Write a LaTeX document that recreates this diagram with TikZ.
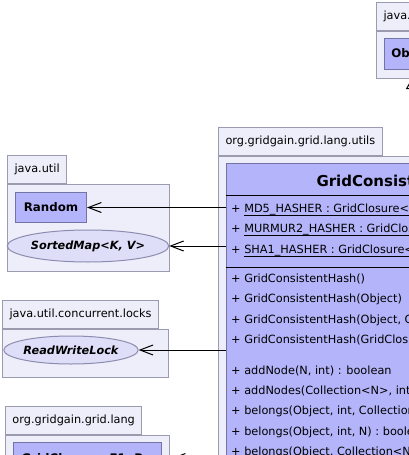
\documentclass[tikz,border=0pt]{standalone}
\usepackage{fontspec}
\setmainfont{DejaVu Sans}
\usetikzlibrary{positioning}
\usetikzlibrary{arrows.meta,shapes.geometric}

\definecolor{pkgfill}{RGB}{238,238,250}
\definecolor{pkgline}{RGB}{155,155,175}
\definecolor{classfill}{RGB}{180,180,250}
\definecolor{classline}{RGB}{115,115,165}
\definecolor{ifacefill}{RGB}{222,222,248}
\definecolor{ifaceline}{RGB}{140,140,175}

\newcommand{\pkgfont}{\fontsize{11.3pt}{13pt}\selectfont}
\newcommand{\boxfont}{\fontsize{11.8pt}{14pt}\selectfont}
\newcommand{\titlefont}{\fontsize{15pt}{18pt}\selectfont}
\newcommand{\static}[1]{\underline{\smash{#1}\rule[-1.4pt]{0pt}{0pt}}}

\tikzset{
  pkgtab/.style={draw=pkgline, fill=pkgfill, line width=1pt, anchor=north west,
    minimum height=28pt, inner xsep=7pt, font=\pkgfont},
  pkgbody/.style={draw=pkgline, fill=pkgfill, line width=1pt, anchor=north west, inner sep=0pt},
  classbox/.style={draw=classline, fill=classfill, line width=1pt, inner sep=0pt,
    font=\bfseries\boxfont},
  iface/.style={ellipse, draw=ifaceline, fill=ifacefill, line width=1pt, inner sep=0pt,
    font=\bfseries\itshape\pkgfont},
  member/.style={inner xsep=0pt, inner ysep=4pt, text height=9pt, text depth=3pt,
    anchor=north west, font=\pkgfont},
  dep/.style={-{Straight Barb[length=13pt,width=10pt]}, line width=1pt},
  gen/.style={-{Triangle[open,length=10pt,width=11pt]}, line width=1pt},
}

\begin{document}
\begin{tikzpicture}[x=1pt,y=-1pt]
  \useasboundingbox (0,0) rectangle (409,455);
  \clip (0,0) rectangle (409,455);

  % java.lang
  \node [pkgtab] (tab0) at (376,2) {java.lang};
  \node [pkgbody, minimum width=120pt, minimum height=47pt] (pkg0) at (tab0.south west) {};
  \node [classbox, anchor=north west, minimum width=57pt, minimum height=31pt] (object) at (384,38) {Object};

  % java.util
  \node [pkgtab] (tab1) at (7,155) {java.util};
  \node [pkgbody, minimum width=162pt, minimum height=87pt] (pkg1) at (tab1.south west) {};
  \node [classbox, anchor=north west, minimum width=71pt, minimum height=30pt] (random) at (15,192) {Random};
  \node [iface, minimum width=146pt, minimum height=32pt] (sortedmap) at (88,246) {SortedMap<K, V>};

  % java.util.concurrent.locks
  \node [pkgtab] (tab2) at (2,300) {java.util.concurrent.locks};
  \node [pkgbody, minimum width=166pt, minimum height=48pt] (pkg2) at (tab2.south west) {};
  \node [iface, minimum width=124pt, minimum height=28pt] (rwlock) at (71,350) {ReadWriteLock};

  % org.gridgain.grid.lang
  \node [pkgtab] (tab3) at (5,406) {org.gridgain.grid.lang};
  \node [pkgbody, minimum width=164pt, minimum height=60pt] (pkg3) at (tab3.south west) {};
  \node [classbox, anchor=north west, minimum width=148pt, minimum height=32pt] (gclosure) at (13,442) {GridClosure<E1, R>};

  % org.gridgain.grid.lang.utils
  \node [pkgtab] (tab4) at (218,127) {org.gridgain.grid.lang.utils};
  \node [pkgbody, minimum width=400pt, minimum height=400pt] (pkg4) at (tab4.south west) {};
  \node [classbox, anchor=north west, minimum width=370pt, minimum height=400pt] (ghash) at (226,163) {};
  \node [anchor=base west, font=\bfseries\titlefont] (title) at (313,186) {GridConsistentHash<N>};
  \draw [line width=1pt] (226,195) -- (596,195);
  \draw [line width=1pt] (226,267) -- (596,267);

  \node [member] (a1) at (231,199) {+ \static{MD5\_HASHER : GridClosure<byte[], Integer>}};
  \node [member, below=0pt of a1.south west, anchor=north west] (a2) {+ \static{MURMUR2\_HASHER : GridClosure<byte[], Integer>}};
  \node [member, below=0pt of a2.south west, anchor=north west] (a3) {+ \static{SHA1\_HASHER : GridClosure<byte[], Integer>}};

  \node [member, below=9pt of a3.south west, anchor=north west] (c1) {+ GridConsistentHash()};
  \node [member, below=0pt of c1.south west, anchor=north west] (c2) {+ GridConsistentHash(Object)};
  \node [member, below=0pt of c2.south west, anchor=north west] (c3) {+ GridConsistentHash(Object, GridClosure<byte[], Integer>)};
  \node [member, below=0pt of c3.south west, anchor=north west] (c4) {+ GridConsistentHash(GridClosure<byte[], Integer>)};

  \node [member, below=10pt of c4.south west, anchor=north west] (m1) {+ addNode(N, int) : boolean};
  \node [member, below=0pt of m1.south west, anchor=north west] (m2) {+ addNodes(Collection<N>, int) : boolean};
  \node [member, below=0pt of m2.south west, anchor=north west] (m3) {+ belongs(Object, int, Collection<N>) : boolean};
  \node [member, below=0pt of m3.south west, anchor=north west] (m4) {+ belongs(Object, int, N) : boolean};
  \node [member, below=0pt of m4.south west, anchor=north west] (m5) {+ belongs(Object, Collection<N>) : boolean};

  \draw [dep] (ghash.west |- random) -- (random);
  \draw [dep] (ghash.west |- sortedmap) -- (sortedmap);
  \draw [dep] (ghash.west |- rwlock) -- (rwlock);
  \draw [dep, shorten >=9pt] (ghash.west |- gclosure) -- (gclosure);
  \draw [gen] (ghash.north) -- (ghash.north |- pkg0.south);
\end{tikzpicture}
\end{document}
